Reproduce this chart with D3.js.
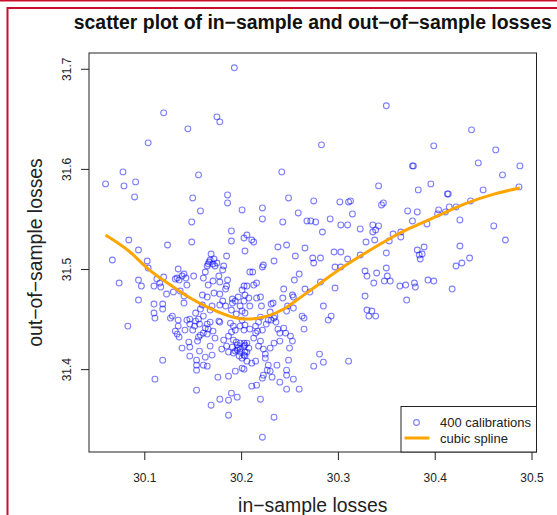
<!DOCTYPE html>
<html>
<head>
<meta charset="utf-8">
<style>
  body { margin: 0; background: #fff; }
  svg { display: block; font-family: "Liberation Sans", Arial, sans-serif; }
  .tick text { font-size: 12px; fill: #222; }
  .tick line { stroke: #222; }
</style>
<script src="https://d3js.org/d3.v7.min.js"></script>
</head>
<body>
<svg width="557" height="515"></svg>
<script>
// in-sample losses (x), grouped by area of the plot
var inSample = [
  30.060,30.078,30.079,30.091,30.090,30.084,30.094,30.067,30.074,30.094,30.097,30.094,30.083,
  30.120,30.175,30.178,30.145,30.104,30.193,30.156,30.150,30.186,30.186,30.158,30.201,30.149,30.190,30.190,30.149,30.124,30.203,30.204,30.169,30.185,30.103,30.104,
  30.168,30.166,30.171,30.165,30.173,30.182,30.181,30.135,30.134,30.139,30.141,30.136,30.143,30.151,30.132,30.161,30.163,30.120,30.113,30.116,30.117,30.110,30.166,30.171,30.177,30.178,30.185,30.186,30.144,30.130,30.123,30.137,30.141,30.160,30.165,30.172,30.178,30.184,30.191,30.197,30.201,30.203,
  30.242,30.283,30.249,30.275,30.302,30.222,30.222,30.259,30.243,30.268,30.272,30.277,30.292,30.303,30.284,30.206,30.211,30.213,30.238,30.247,30.266,30.256,30.274,30.275,30.282,30.296,30.303,30.234,30.223,30.222,30.297,30.303,30.209,30.212,30.216,30.213,30.206,30.204,30.208,30.216,30.220,30.255,30.260,30.244,30.253,30.254,30.266,30.282,30.297,30.271,30.243,30.248,30.233,
  30.110,30.119,30.119,30.110,30.111,30.129,
  30.160,30.158,30.170,30.168,30.178,30.181,30.184,30.191,30.194,30.199,30.201,30.195,30.190,30.203,
  30.144,30.147,30.153,30.156,30.157,30.147,30.152,30.142,30.150,30.135,30.132,30.134,30.136,
  30.165,30.168,30.163,30.166,30.161,30.165,30.171,30.158,30.156,
  30.177,30.178,30.189,30.192,30.190,30.194,30.199,30.201,
  30.146,30.139,30.147,30.155,30.157,30.147,30.154,30.163,30.170,30.168,
  30.180,30.185,30.187,30.191,30.196,30.199,30.203,30.194,30.199,30.203,30.201,30.197,
  30.119,30.154,30.154,30.161,30.165,30.111,30.176,30.187,30.194,30.201,
  30.154,30.178,30.187,30.190,30.196,30.169,30.187,
  30.196,30.203,30.192,30.198,30.204,
  30.209,30.221,30.231,30.247,30.254,30.285,30.263,30.265,30.290,30.293,30.265,
  30.204,30.220,30.226,30.231,30.234,30.236,30.238,30.240,30.246,30.251,30.253,30.250,30.240,30.234,30.230,30.223,30.218,30.220,30.215,30.217,30.209,30.204,30.203,30.213,30.206,30.208,
  30.204,30.206,30.203,30.215,30.211,30.225,30.228,30.237,30.249,30.227,30.223,30.222,30.230,30.232,30.247,30.247,30.254,30.240,30.247,30.260,30.216,30.211,
  30.275,30.281,30.285,30.220,30.234,30.222,
  30.350,30.438,30.399,30.463,30.377,30.378,30.445,30.488,30.470,30.342,30.396,30.383,30.450,30.487,30.413,30.414,
  30.311,30.313,30.315,30.347,30.345,30.437,30.426,30.422,30.415,30.404,30.411,30.403,30.382,30.372,30.377,30.392,
  30.310,30.323,30.336,30.342,30.339,30.336,30.338,30.329,30.357,30.365,30.365,30.353,30.350,30.323,30.310,
  30.461,30.473,30.426,30.382,30.389,30.387,30.384,30.436,30.385,30.422,30.428,
  30.328,30.330,30.340,30.337,30.348,30.350,30.351,30.354,30.364,30.370,30.379,30.380,30.393,30.399,30.418,30.371,30.328,
  30.330,30.335,30.332,30.339,30.311,
  30.195,30.199,30.204,30.192,30.206,30.167,30.172,30.175,30.230,30.235,30.228,30.141,
  30.135,30.127,30.182,30.187,30.173,30.215,30.222,30.218,30.153,30.161,30.225,30.244
];

// out-of-sample losses (y), same order
var outSample = [
  31.585,31.597,31.583,31.587,31.572,31.529,31.519,31.509,31.486,31.489,31.483,31.469,31.443,
  31.656,31.652,31.647,31.640,31.626,31.701,31.594,31.571,31.574,31.566,31.558,31.559,31.547,31.538,31.528,31.527,31.524,31.531,31.518,31.515,31.513,31.508,31.501,
  31.509,31.505,31.505,31.503,31.503,31.503,31.499,31.500,31.491,31.493,31.495,31.489,31.491,31.493,31.490,31.491,31.497,31.492,31.490,31.486,31.482,31.483,31.484,31.488,31.493,31.487,31.483,31.489,31.484,31.477,31.475,31.478,31.473,31.474,31.472,31.476,31.475,31.480,31.470,31.472,31.479,31.483,
  31.597,31.624,31.571,31.568,31.567,31.561,31.550,31.556,31.547,31.548,31.548,31.547,31.550,31.544,31.537,31.534,31.529,31.527,31.522,31.524,31.521,31.513,31.511,31.506,31.511,31.517,31.517,31.508,31.504,31.502,31.502,31.502,31.497,31.497,31.486,31.484,31.483,31.474,31.471,31.471,31.472,31.489,31.495,31.480,31.474,31.472,31.480,31.487,31.481,31.477,31.471,31.463,31.466,
  31.465,31.465,31.460,31.456,31.451,31.453,
  31.464,31.460,31.463,31.459,31.464,31.468,31.463,31.466,31.468,31.463,31.458,31.455,31.459,31.468,
  31.449,31.450,31.448,31.450,31.445,31.445,31.443,31.439,31.439,31.443,31.438,31.435,31.432,
  31.445,31.447,31.441,31.440,31.436,31.435,31.438,31.434,31.432,
  31.448,31.447,31.446,31.443,31.437,31.439,31.443,31.449,
  31.427,31.421,31.422,31.428,31.418,31.413,31.409,31.412,31.414,31.423,
  31.420,31.423,31.417,31.422,31.424,31.426,31.423,31.418,31.417,31.414,31.411,31.421,
  31.409,31.404,31.399,31.404,31.403,31.390,31.392,31.393,31.398,31.401,
  31.379,31.370,31.369,31.376,31.372,31.364,31.354,
  31.419,31.426,31.429,31.413,31.417,
  31.463,31.463,31.465,31.458,31.461,31.463,31.453,31.451,31.449,31.453,31.440,
  31.456,31.452,31.445,31.449,31.451,31.447,31.440,31.436,31.436,31.433,31.428,31.421,31.428,31.426,31.421,31.420,31.423,31.428,31.436,31.438,31.440,31.444,31.439,31.431,31.426,31.421,
  31.413,31.408,31.400,31.408,31.406,31.411,31.404,31.404,31.409,31.399,31.394,31.391,31.398,31.392,31.399,31.394,31.390,31.387,31.380,31.380,31.384,31.383,
  31.403,31.415,31.407,31.370,31.352,31.332,
  31.663,31.639,31.623,31.619,31.603,31.603,31.606,31.603,31.594,31.583,31.585,31.579,31.579,31.582,31.575,31.575,
  31.567,31.568,31.555,31.566,31.564,31.568,31.549,31.562,31.562,31.559,31.557,31.555,31.557,31.558,31.548,31.545,
  31.544,31.540,31.544,31.543,31.539,31.537,31.529,31.527,31.535,31.537,31.532,31.528,31.516,31.514,31.510,
  31.543,31.529,31.523,31.519,31.522,31.515,31.514,31.511,31.510,31.503,31.506,
  31.498,31.493,31.496,31.486,31.488,31.501,31.493,31.488,31.483,31.484,31.486,31.482,31.489,31.488,31.480,31.469,31.473,
  31.459,31.458,31.453,31.453,31.408,
  31.427,31.420,31.424,31.416,31.417,31.507,31.510,31.506,31.457,31.453,31.449,31.466,
  31.449,31.451,31.429,31.433,31.431,31.443,31.439,31.447,31.456,31.453,31.415,31.441
];

// cubic spline
var splineX = [30.060,30.084,30.103,30.124,30.144,30.165,30.185,30.204,30.227,30.244,30.259,30.282,30.310,30.351,30.375,30.403,30.431,30.462,30.488];
var splineY = [31.534,31.518,31.501,31.486,31.473,31.462,31.454,31.450,31.453,31.460,31.470,31.486,31.505,31.529,31.541,31.553,31.565,31.575,31.581];

var xTicks = [30.1, 30.2, 30.3, 30.4, 30.5];
var yTicks = [31.4, 31.5, 31.6, 31.7];

var svg = d3.select("svg");
var plotLeft = 89, plotRight = 536.5, plotTop = 53, plotBottom = 452;

// page frame (red lines)
svg.append("line").attr("x1", 0).attr("x2", 557).attr("y1", 0.5).attr("y2", 0.5)
   .attr("stroke", "#c8102e").attr("stroke-width", 2);
svg.append("path").attr("d", "M7.5,515V8H557").attr("fill", "none")
   .attr("stroke", "#c8102e").attr("stroke-width", 2);

// R style padding: 4% either side of the data range
function padded(v) {
  var e = d3.extent(v), p = (e[1] - e[0]) * 0.04;
  return [e[0] - p, e[1] + p];
}

var x = d3.scaleLinear().domain(padded(inSample)).range([plotLeft, plotRight]);
var y = d3.scaleLinear().domain(padded(outSample)).range([plotBottom, plotTop]);

var xAxis = svg.append("g")
   .attr("transform", "translate(0," + plotBottom + ")")
   .call(d3.axisBottom(x).tickValues(xTicks).tickSize(8).tickFormat(d3.format(".1f")));
xAxis.select(".domain").remove();
xAxis.selectAll("text").attr("y", 21);

var yAxis = svg.append("g")
   .attr("transform", "translate(" + plotLeft + ",0)")
   .call(d3.axisLeft(y).tickValues(yTicks).tickSize(8).tickFormat(d3.format(".1f")));
yAxis.select(".domain").remove();
yAxis.selectAll("text")
   .attr("transform", "rotate(-90)")
   .attr("x", 0).attr("y", -18).attr("dy", 0)
   .style("text-anchor", "middle");

// points
svg.append("g").selectAll("circle")
   .data(d3.zip(inSample, outSample))
   .enter().append("circle")
   .attr("cx", function(d) { return x(d[0]); })
   .attr("cy", function(d) { return y(d[1]); })
   .attr("r", 2.9)
   .attr("fill", "none")
   .attr("stroke", "rgba(0,0,255,0.5)")
   .attr("stroke-width", 1.1);

// spline
var line = d3.line()
   .x(function(d) { return x(d[0]); })
   .y(function(d) { return y(d[1]); })
   .curve(d3.curveNatural);
svg.append("path")
   .datum(d3.zip(splineX, splineY))
   .attr("d", line)
   .attr("fill", "none")
   .attr("stroke", "#ffa500")
   .attr("stroke-width", 3);

// box
svg.append("rect")
   .attr("x", plotLeft).attr("y", plotTop)
   .attr("width", plotRight - plotLeft).attr("height", plotBottom - plotTop)
   .attr("fill", "none").attr("stroke", "#222").attr("stroke-width", 1);

// titles
svg.append("text").attr("x", (plotLeft + plotRight) / 2).attr("y", 28.5)
   .attr("text-anchor", "middle").style("font-size", "19.4px").style("font-weight", "bold")
   .attr("fill", "#111")
   .text("scatter plot of in\u2212sample and out\u2212of\u2212sample losses");
svg.append("text").attr("x", (plotLeft + plotRight) / 2).attr("y", 511.5)
   .attr("text-anchor", "middle").style("font-size", "19.4px").attr("fill", "#222")
   .text("in\u2212sample losses");
svg.append("text")
   .attr("transform", "translate(41.5," + (plotTop + plotBottom) / 2 + ") rotate(-90)")
   .attr("text-anchor", "middle").style("font-size", "19.4px").attr("fill", "#222")
   .text("out\u2212of\u2212sample losses");

// legend
var lg = svg.append("g");
lg.append("rect").attr("x", 401).attr("y", 406.5).attr("width", plotRight - 401).attr("height", plotBottom - 406.5)
  .attr("fill", "#fff").attr("stroke", "#222").attr("stroke-width", 1);
lg.append("circle").attr("cx", 416.5).attr("cy", 422.5).attr("r", 2.9)
  .attr("fill", "none").attr("stroke", "rgba(0,0,255,0.5)").attr("stroke-width", 1.1);
lg.append("line").attr("x1", 404.5).attr("x2", 429.5).attr("y1", 438).attr("y2", 438)
  .attr("stroke", "#ffa500").attr("stroke-width", 3);
lg.append("text").attr("x", 440).attr("y", 427).style("font-size", "13px").attr("fill", "#222")
  .text("400 calibrations");
lg.append("text").attr("x", 440).attr("y", 443).style("font-size", "13px").attr("fill", "#222")
  .text("cubic spline");
</script>
</body>
</html>
